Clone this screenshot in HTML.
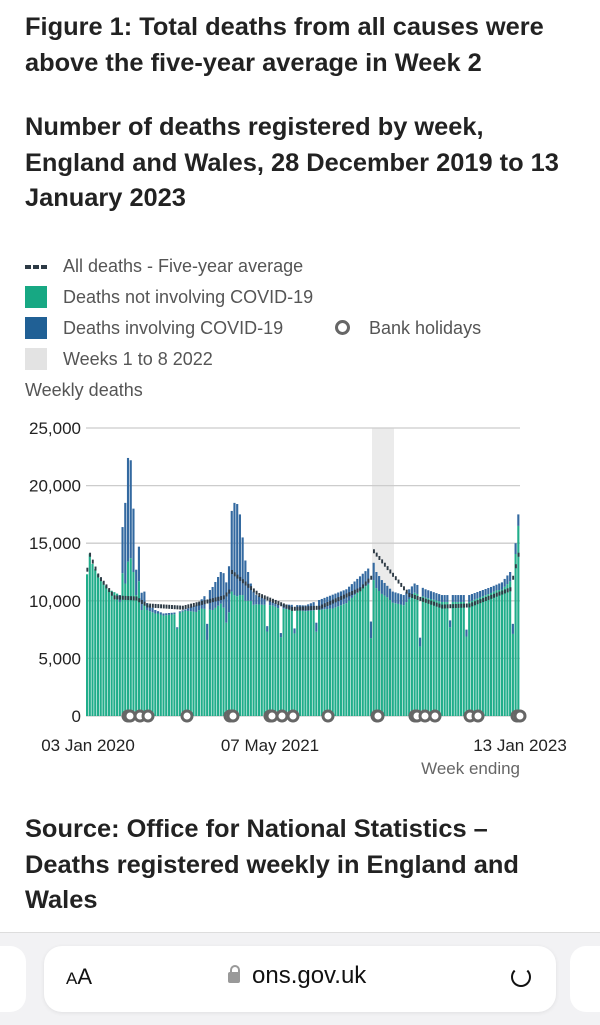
<!DOCTYPE html>
<html><head><meta charset="utf-8"><style>
body{margin:0;width:600px;height:1024px;background:#fff;font-family:"Liberation Sans",sans-serif;position:relative;overflow:hidden;color:#222}
.t{position:absolute;left:25px;font-weight:bold;font-size:25.4px;line-height:35.5px;color:#222;white-space:nowrap}
.lg{position:absolute;font-size:18px;color:#555;white-space:nowrap}
.sw{position:absolute;left:25px;width:22px;height:22px}
</style></head><body>
<div class="t" style="top:10px">Figure 1: Total deaths from all causes were<br>above the five-year average in Week 2</div>
<div class="t" style="top:110px">Number of deaths registered by week,<br>England and Wales, 28 December 2019 to 13<br>January 2023</div>
<div style="position:absolute;left:25px;top:265px;width:22px;height:4px;background:repeating-linear-gradient(90deg,#2d3a45 0 6px,transparent 6px 8px)"></div>
<div class="lg" style="left:63px;top:256px">All deaths - Five-year average</div>
<div class="sw" style="top:286px;background:#17a883"></div>
<div class="lg" style="left:63px;top:287px">Deaths not involving COVID-19</div>
<div class="sw" style="top:317px;background:#206095"></div>
<div class="lg" style="left:63px;top:318px">Deaths involving COVID-19</div>
<div style="position:absolute;left:335px;top:320px;width:9px;height:9px;border:3px solid #666;border-radius:50%"></div>
<div class="lg" style="left:369px;top:318px">Bank holidays</div>
<div class="sw" style="top:348px;background:#e3e3e3"></div>
<div class="lg" style="left:63px;top:349px">Weeks 1 to 8 2022</div>
<div class="lg" style="left:25px;top:380px">Weekly deaths</div>
<svg id="c" width="600" height="800" style="position:absolute;left:0;top:0" xmlns="http://www.w3.org/2000/svg" font-family="Liberation Sans" font-size="17" fill="#222"></svg>
<div class="t" style="top:812px">Source: Office for National Statistics –<br>Deaths registered weekly in England and<br>Wales</div>
<div style="position:absolute;left:0;top:932px;width:600px;height:92px;background:#f2f2f4;border-top:1px solid #ddd"></div>
<div style="position:absolute;left:-20px;top:946px;width:46px;height:66px;background:#fff;border-radius:16px"></div>
<div style="position:absolute;left:570px;top:946px;width:60px;height:66px;background:#fff;border-radius:16px"></div>
<div style="position:absolute;left:44px;top:946px;width:512px;height:66px;background:#fff;border-radius:18px;box-shadow:0 1px 4px rgba(0,0,0,.08)"></div>
<div style="position:absolute;left:66px;top:964px;font-size:22px;color:#111"><span style="font-size:17px">A</span>A</div>
<div style="position:absolute;left:228px;top:972px;width:12px;height:11px;background:#999;border-radius:2px"></div>
<div style="position:absolute;left:230px;top:965px;width:6px;height:8px;border:2px solid #999;border-bottom:none;border-radius:5px 5px 0 0"></div>
<div style="position:absolute;left:252px;top:962px;font-size:24px;color:#111">ons.gov.uk</div>
<div style="position:absolute;left:511px;top:967px;width:16px;height:16px;border:2px solid #111;border-top-color:transparent;border-radius:50%"></div>
<script>
var s=document.getElementById('c'),h='';
function Y(v){return 716-v*11.52;}
function ip(k,i){for(var j=0;j<k.length-1;j++){if(i>=k[j][0]&&i<=k[j+1][0]){var a=k[j],b=k[j+1];return a[1]+(b[1]-a[1])*(i-a[0])/(b[0]-a[0]||1);}}return k[k.length-1][1];}
var T=[[0,12.3],[1,14.1],[2,13.2],[4,12.3],[8,11.0],[12,10.5],[13,16.4],[14,18.5],[15,22.4],[16,22.2],[17,18.0],[18,12.7],[19,14.7],[20,10.7],[21,10.8],[22,9.8],[25,9.2],[28,8.9],[33,9.0],[40,9.6],[46,11.2],[49,12.5],[50,12.4],[51,11.6],[52,13.0],[53,17.8],[54,18.5],[55,18.4],[56,17.5],[57,15.5],[58,13.5],[59,12.5],[60,11.5],[61,10.8],[62,10.5],[70,9.7],[80,9.6],[95,11.0],[103,12.8],[104,8.2],[105,13.3],[106,12.5],[108,11.8],[112,10.8],[116,10.5],[120,11.5],[124,11.0],[130,10.5],[140,10.5],[148,11.2],[152,11.6],[155,12.5],[156,14.5],[157,15.0],[158,17.5]];
var C=[[0,0],[11,0],[12,0.6],[13,4],[14,7],[15,9],[16,8.5],[17,5.5],[18,2.2],[19,3],[20,1.5],[22,0.6],[26,0.2],[36,0.1],[42,0.8],[46,2.0],[50,3.0],[52,4],[53,7],[54,8],[55,8],[56,7],[57,5],[58,3.5],[59,2.5],[60,1.5],[62,0.8],[68,0.3],[80,0.5],[90,1.2],[100,1.2],[105,1.5],[110,1.0],[120,0.8],[130,0.6],[140,0.6],[150,0.5],[158,1.0]];
var A=[[0,12.7],[1,14.0],[4,12.2],[10,10.3],[18,10.2],[22,9.6],[35,9.4],[50,10.3],[52,10.8],[53,12.5],[63,10.5],[75,9.3],[85,9.4],[100,11.0],[104,12.0],[105,14.3],[118,10.5],[130,9.5],[140,9.6],[155,11.0],[158,14.0]];
var dips={33:7.7,44:8.0,66:7.8,71:7.2,76:7.6,84:8.1,104:8.2,122:6.8,133:8.3,139:7.5,156:8.0};
h+='<rect x="372" y="428" width="22" height="288" fill="#ebebeb"/>';
[0,5,10,15,20,25].forEach(function(v){var y=Y(v);h+='<line x1="86" x2="520" y1="'+y+'" y2="'+y+'" stroke="#ccc" stroke-width="1.3"/>';h+='<text x="81" y="'+(y+6)+'" text-anchor="end">'+(v?v+',000':'0')+'</text>';});
var w=434/159;
for(var i=0;i<159;i++){var t=ip(T,i),c=ip(C,i);if(dips[i])t=dips[i];var x=86+i*w;c=Math.min(c,t*0.5);
h+='<rect x="'+x.toFixed(2)+'" y="'+Y(t-c)+'" width="'+(w-0.6).toFixed(2)+'" height="'+((t-c)*11.52)+'" fill="#20ad8a"/>';
if(c>0.05)h+='<rect x="'+x.toFixed(2)+'" y="'+Y(t)+'" width="'+(w-0.6).toFixed(2)+'" height="'+(c*11.52)+'" fill="#3369a0"/>';
var a=ip(A,i);h+='<rect x="'+(x+0.4).toFixed(2)+'" y="'+(Y(a)-2)+'" width="1.9" height="4" fill="#2d3a45"/>';}
[128,130,140,148,187,230,233,270,272,282,293,328,377,378,415,417,425,435,470,478,517,520].forEach(function(x){h+='<circle cx="'+x+'" cy="716" r="5" fill="#fff" stroke="#666" stroke-width="3"/>';});
h+='<text x="88" y="751" text-anchor="middle">03 Jan 2020</text><text x="270" y="751" text-anchor="middle">07 May 2021</text><text x="520" y="751" text-anchor="middle">13 Jan 2023</text><text x="520" y="774" text-anchor="end" fill="#666">Week ending</text>';
s.innerHTML=h;
</script>
</body></html>
